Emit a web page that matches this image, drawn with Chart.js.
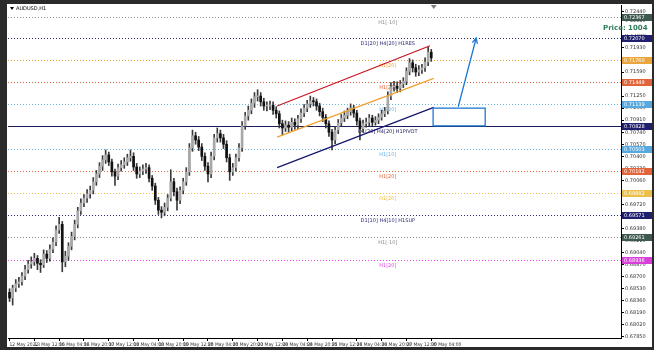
<html>
<head>
<title>AUDUSD,H1</title>
<meta charset="utf-8" />
<script src="https://cdn.jsdelivr.net/npm/chart.js"></script>
<style>
  body { margin: 0; background: #2b2b2b; }
  canvas { display: block; }
</style>
</head>
<body>
<canvas id="myChart" width="654" height="350"></canvas>
<script>
// AUDUSD, 2-hour candles, 12 May - 30 May 2022
const timeLabels = ["12 May 2022","13 May 12:00","16 May 04:00","16 May 20:00","17 May 12:00","18 May 04:00",
  "18 May 20:00","19 May 12:00","20 May 04:00","20 May 20:00","23 May 12:00","24 May 04:00","24 May 20:00",
  "25 May 12:00","26 May 04:00","26 May 20:00","27 May 12:00","30 May 04:00"];
const barsPerLabel = 8;

const firstOpen = 0.6848;
const closes = [
  0.6840,0.6854,0.6860,0.6863,0.6871,0.6880,0.6888,0.6891,0.6896,0.6889,
  0.6887,0.6902,0.6896,0.6909,0.6919,0.6936,0.6944,0.6891,0.6899,0.6913,
  0.6927,0.6944,0.6963,0.6974,0.6981,0.6987,0.6992,0.7004,0.7015,0.7026,
  0.7035,0.7042,0.7032,0.7018,0.7012,0.7024,0.7028,0.7032,0.7038,0.7040,
  0.7025,0.7015,0.7019,0.7022,0.7024,0.7009,0.6998,0.6978,0.6964,0.6961,
  0.6968,0.6981,0.7004,0.6990,0.6978,0.6992,0.7004,0.7018,0.7052,0.7069,
  0.7063,0.7053,0.7040,0.7026,0.7015,0.7040,0.7066,0.7072,0.7066,0.7057,
  0.7038,0.7018,0.7024,0.7038,0.7052,0.7083,0.7097,0.7105,0.7115,0.7124,
  0.7125,0.7117,0.7111,0.7111,0.7112,0.7105,0.7100,0.7086,0.7080,0.7084,
  0.7081,0.7088,0.7084,0.7093,0.7101,0.7108,0.7114,0.7118,0.7117,0.7111,
  0.7103,0.7095,0.7086,0.7074,0.7063,0.7077,0.7087,0.7094,0.7098,0.7103,
  0.7108,0.7101,0.7090,0.7079,0.7086,0.7088,0.7094,0.7088,0.7091,0.7095,
  0.7100,0.7104,0.7125,0.7138,0.7139,0.7136,0.7142,0.7146,0.7160,0.7172,
  0.7165,0.7159,0.7162,0.7165,0.7173,0.7187,0.7179];
const highs = [
  0.6853,0.6858,0.6866,0.6869,0.6876,0.6886,0.6893,0.6898,0.6903,0.6900,
  0.6894,0.6908,0.6907,0.6915,0.6925,0.6942,0.6954,0.6948,0.6906,0.6918,
  0.6933,0.6950,0.6968,0.6980,0.6986,0.6993,0.6998,0.7010,0.7020,0.7031,
  0.7041,0.7049,0.7046,0.7036,0.7022,0.7029,0.7034,0.7038,0.7043,0.7049,
  0.7045,0.7030,0.7025,0.7028,0.7030,0.7028,0.7013,0.7002,0.6982,0.6969,
  0.6974,0.6986,0.7021,0.7009,0.6995,0.6997,0.7009,0.7024,0.7058,0.7077,
  0.7074,0.7068,0.7058,0.7045,0.7031,0.7046,0.7071,0.7080,0.7077,0.7071,
  0.7062,0.7043,0.7030,0.7043,0.7058,0.7089,0.7102,0.7111,0.7121,0.7130,
  0.7134,0.7130,0.7122,0.7117,0.7118,0.7117,0.7110,0.7104,0.7091,0.7090,
  0.7089,0.7094,0.7093,0.7098,0.7107,0.7113,0.7119,0.7125,0.7123,0.7121,
  0.7115,0.7108,0.7099,0.7090,0.7078,0.7082,0.7092,0.7099,0.7104,0.7108,
  0.7114,0.7112,0.7105,0.7094,0.7091,0.7094,0.7099,0.7098,0.7096,0.7100,
  0.7105,0.7109,0.7131,0.7144,0.7146,0.7145,0.7147,0.7151,0.7165,0.7178,
  0.7176,0.7170,0.7168,0.7170,0.7179,0.7194,0.7191];
const lows = [
  0.6835,0.6830,0.6849,0.6855,0.6858,0.6866,0.6875,0.6882,0.6886,0.6880,
  0.6876,0.6883,0.6890,0.6892,0.6904,0.6914,0.6931,0.6877,0.6884,0.6893,
  0.6908,0.6922,0.6939,0.6958,0.6969,0.6975,0.6981,0.6987,0.6999,0.7010,
  0.7020,0.7030,0.7027,0.7012,0.6999,0.7007,0.7019,0.7023,0.7027,0.7033,
  0.7020,0.7009,0.7010,0.7014,0.7016,0.7004,0.6992,0.6972,0.6958,0.6953,
  0.6956,0.6963,0.6977,0.6984,0.6964,0.6973,0.6987,0.6999,0.7013,0.7047,
  0.7057,0.7048,0.7034,0.7020,0.7004,0.7010,0.7035,0.7060,0.7060,0.7051,
  0.7032,0.7006,0.7013,0.7019,0.7033,0.7047,0.7078,0.7091,0.7100,0.7109,
  0.7118,0.7111,0.7105,0.7104,0.7106,0.7099,0.7094,0.7080,0.7070,0.7075,
  0.7074,0.7076,0.7078,0.7079,0.7088,0.7096,0.7103,0.7109,0.7111,0.7105,
  0.7097,0.7089,0.7080,0.7068,0.7049,0.7058,0.7072,0.7082,0.7089,0.7093,
  0.7098,0.7095,0.7084,0.7063,0.7074,0.7081,0.7083,0.7083,0.7084,0.7086,
  0.7091,0.7096,0.7100,0.7120,0.7132,0.7130,0.7131,0.7137,0.7141,0.7155,
  0.7159,0.7153,0.7154,0.7157,0.7160,0.7168,0.7174];

// price axis
const priceMin = 0.67835, priceMax = 0.72536;
const yTicks = [0.67850,0.68020,0.68190,0.68360,0.68530,0.68700,0.68870,0.69040,0.69210,0.69380,
  0.69550,0.69720,0.69890,0.70060,0.70230,0.70400,0.70570,0.70740,0.70910,0.71080,
  0.71250,0.71420,0.71590,0.71760,0.71930,0.72100,0.72270,0.72440];

// horizontal levels
const levelPrices = [0.72367,0.72070,0.71760,0.71449,0.71139,0.70828,0.70503,0.70192,0.69882,0.69571,0.69261,0.68936];
const levelNames = ["H1[-10]","D1[20] H4[20] H1RES","H1[20]","H1[20]","H1[20]","D1[20] H4[20] H1PIVOT",
  "H1[10]","H1[20]","H1[20]","D1[10] H4[10] H1SUP","H1[-10]","H1[20]"];
const levelColors = ["#8c8c8c","#2a2a78","#eaa63c","#e2643a","#6cb4e4","#1c1c5c",
  "#6cb4e4","#e2643a","#eabf4a","#2a2a78","#8c8c8c","#e048e0"];
const boxColors = ["#3e5a50","#20206e","#eaa63c","#e2643a","#58a8e0","#20206e",
  "#58a8e0","#e2643a","#eabf4a","#20206e","#3e5a50","#d840d8"];

// drawn objects (bar index, price)
const redLine = [{x: 86.3, y: 0.7111}, {x: 135.6, y: 0.7196}];
const orangeLine = [{x: 86.3, y: 0.7067}, {x: 136.8, y: 0.7150}];
const navyLine = [{x: 86.3, y: 0.7024}, {x: 136.8, y: 0.7109}];
const targetBox = {x1: 136.6, x2: 153.4, y1: 0.7108, y2: 0.7083};
const arrowPts = [{x: 144.7, y: 0.7110}, {x: 150.5, y: 0.7207}];

const opens = closes.map((c, i) => i == 0 ? firstOpen : closes[i - 1]);
const wicks = closes.map((c, i) => ({x: i, y: [lows[i], highs[i]]}));
const bodies = closes.map((c, i) => ({x: i, y: [opens[i], c]}));
const bodyCols = closes.map((c, i) => c >= opens[i] ? "#a8a8a8" : "#111111");

const FONT = '"DejaVu Sans", sans-serif';
const NARROW = '"Liberation Sans Narrow", "DejaVu Sans Condensed", sans-serif';

const mt4 = {
  id: 'mt4',
  beforeDraw(chart) {
    const c = chart.ctx, a = chart.chartArea, ys = chart.scales.y, xs = chart.scales.x;
    c.save();
    c.fillStyle = '#2b2b2b';
    c.fillRect(0, 0, 654, 350);
    c.fillStyle = '#ffffff';
    c.fillRect(7, 4, 645, 343);
    levelPrices.forEach((p, i) => {
      const py = Math.round(ys.getPixelForValue(p)) + 0.5;
      c.strokeStyle = levelColors[i];
      c.lineWidth = 1;
      c.setLineDash(i == 5 ? [] : [1, 2]);
      c.beginPath(); c.moveTo(a.left, py); c.lineTo(a.right, py); c.stroke();
      c.fillStyle = levelColors[i];
      c.font = '5px ' + FONT;
      c.textAlign = 'center';
      c.fillText(levelNames[i], xs.getPixelForValue(122), py + 6);
    });
    c.restore();
  },
  afterDraw(chart) {
    const c = chart.ctx, a = chart.chartArea, ys = chart.scales.y, xs = chart.scales.x;
    c.save();
    // target box
    const bx1 = xs.getPixelForValue(targetBox.x1), bx2 = xs.getPixelForValue(targetBox.x2);
    const by1 = ys.getPixelForValue(targetBox.y1), by2 = ys.getPixelForValue(targetBox.y2);
    c.fillStyle = '#ffffff';
    c.fillRect(bx1, by1, bx2 - bx1, by2 - by1);
    c.strokeStyle = '#1e78d2';
    c.lineWidth = 1.3;
    c.strokeRect(bx1, by1, bx2 - bx1, by2 - by1);
    // arrow
    const ax1 = xs.getPixelForValue(arrowPts[0].x), ay1 = ys.getPixelForValue(arrowPts[0].y);
    const ax2 = xs.getPixelForValue(arrowPts[1].x), ay2 = ys.getPixelForValue(arrowPts[1].y);
    const ang = Math.atan2(ay2 - ay1, ax2 - ax1);
    c.beginPath(); c.moveTo(ax1, ay1); c.lineTo(ax2, ay2);
    c.moveTo(ax2 - 6 * Math.cos(ang - 0.45), ay2 - 6 * Math.sin(ang - 0.45));
    c.lineTo(ax2, ay2);
    c.lineTo(ax2 - 6 * Math.cos(ang + 0.45), ay2 - 6 * Math.sin(ang + 0.45));
    c.stroke();
    // price boxes on the axis
    c.font = '5px ' + FONT;
    c.textAlign = 'left';
    c.textBaseline = 'middle';
    levelPrices.forEach((p, i) => {
      const py = Math.round(ys.getPixelForValue(p)) + 0.5;
      c.fillStyle = boxColors[i];
      c.fillRect(a.right + 1, py - 3.5, 30, 7);
      c.fillStyle = '#ffffff';
      c.fillText(p.toFixed(5), a.right + 3, py + 0.5);
    });
    // title and labels
    c.fillStyle = '#000';
    c.beginPath(); c.moveTo(10, 7); c.lineTo(14, 7); c.lineTo(12, 10); c.fill();
    c.font = '5px ' + FONT;
    c.fillText('AUDUSD,H1', 16, 8.5);
    c.fillStyle = '#ffffff';
    c.fillRect(a.right + 1, 22, 30, 12);
    c.fillStyle = '#2e7d5a';
    c.font = 'bold 7px ' + FONT;
    c.fillText('Price: 1004', 603, 28);
    // chart shift marker
    const sx = xs.getPixelForValue(136.8);
    c.fillStyle = '#808080';
    c.beginPath(); c.moveTo(sx - 3, a.top); c.lineTo(sx + 3, a.top); c.lineTo(sx, a.top + 4); c.fill();
    c.restore();
  }
};

const lineDs = (pts, col) => ({
  type: 'line', data: pts, borderColor: col, borderWidth: 1.2,
  pointRadius: 0, fill: false, order: 0
});

new Chart(document.getElementById('myChart'), {
  type: 'bar',
  data: {
    datasets: [
      { data: wicks, backgroundColor: '#3a3a3a', barThickness: 1, grouped: false, order: 2 },
      { data: bodies, backgroundColor: bodyCols, barThickness: 2, minBarLength: 1, grouped: false, order: 1 },
      lineDs(redLine, '#c8141e'),
      lineDs(orangeLine, '#f0a032'),
      lineDs(navyLine, '#16166e')
    ]
  },
  options: {
    responsive: false,
    animation: false,
    layout: { padding: { left: 8, top: 5, right: 0, bottom: 0 } },
    plugins: { legend: { display: false }, tooltip: { enabled: false } },
    scales: {
      x: {
        type: 'linear', min: -0.5, max: 197.2, offset: false,
        grid: { drawOnChartArea: false, offset: false, color: '#000', tickLength: 3 },
        border: { color: '#000' },
        afterBuildTicks: s => { s.ticks = timeLabels.map((t, i) => ({value: i * barsPerLabel})); },
        afterFit: s => { s.height = 12; },
        ticks: {
          autoSkip: false, maxRotation: 0, align: 'start', padding: 1,
          color: '#333', font: { size: 4.9, family: NARROW },
          callback: v => timeLabels[v / barsPerLabel]
        }
      },
      y: {
        position: 'right', min: priceMin, max: priceMax,
        grid: { drawOnChartArea: false, color: '#000', tickLength: 3 },
        border: { color: '#000' },
        afterBuildTicks: s => { s.ticks = yTicks.map(v => ({value: v})); },
        afterFit: s => { s.width = 33; },
        ticks: {
          padding: 1, color: '#333', font: { size: 5, family: FONT },
          callback: v => v.toFixed(5)
        }
      }
    }
  },
  plugins: [mt4]
});
</script>
</body>
</html>
